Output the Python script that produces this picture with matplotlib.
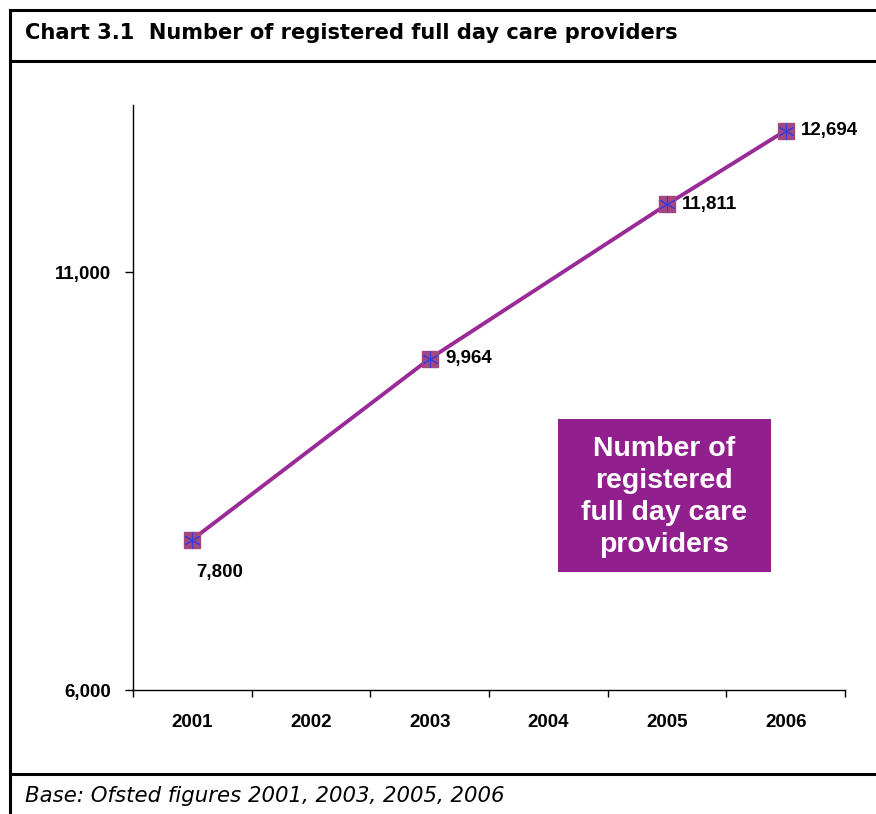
import matplotlib.pyplot as plt
from matplotlib.lines import Line2D
from matplotlib.patches import Rectangle
import numpy as np

# categories on the x axis and the years that have a figure
categories = ["2001", "2002", "2003", "2004", "2005", "2006"]
years = ["2001", "2003", "2005", "2006"]
providers = [7800, 9964, 11811, 12694]
labels = ["7,800", "9,964", "11,811", "12,694"]
yticks = [6000, 11000]
ytick_labels = ["6,000", "11,000"]

W, H = 876, 814
fig = plt.figure(figsize=(W / 100, H / 100), dpi=100)

line_col = "#9a2a98"
box_col = "#921f8e"
lab_size = 13.5

ax = fig.add_axes([133 / W, 1 - 690 / H, (845 - 133) / W, (690 - 105) / H])
x = [categories.index(y) for y in years]
ax.plot(x, providers, color=line_col, lw=2.8, zorder=2)
ax.plot(x, providers, ls="none", marker="s", ms=11.5, mfc="#a3487f", mec="#a3487f", zorder=3)
ax.plot(x, providers, ls="none", marker=(6, 2, 0), ms=12, mec="#3a3ad8", mew=0.8, zorder=4)

ax.set_xlim(-0.5, 5.5)
ax.set_ylim(6000, 13000)
ax.set_yticks(yticks)
ax.set_yticklabels(ytick_labels)
ax.set_xticks(range(len(categories)))
ax.set_xticklabels(categories)
ax.set_xticks(np.arange(-0.5, 6, 1), minor=True)
ax.tick_params(axis="x", which="major", length=0, pad=17)
ax.tick_params(axis="x", which="minor", length=5, direction="out", width=1)
ax.tick_params(axis="y", length=6, width=1, pad=10)
for lab in ax.get_xticklabels() + ax.get_yticklabels():
    lab.set_fontfamily("Liberation Sans")
    lab.set_fontweight("bold")
    lab.set_fontsize(lab_size)
for s in ["top", "right"]:
    ax.spines[s].set_visible(False)
for s in ["left", "bottom"]:
    ax.spines[s].set_linewidth(1)

# value labels
for i, (xi, v, t) in enumerate(zip(x, providers, labels)):
    if i == 0:
        off = (3, -24)
    else:
        off = (11, 0)
    ax.annotate(t, (xi, v), xytext=off, textcoords="offset points",
                ha="left", va="center", fontsize=lab_size, fontweight="bold",
                family="Liberation Sans")

# purple label box
fig.patches.append(Rectangle((558 / W, 1 - 572 / H), (771 - 558) / W, (572 - 419) / H,
                             transform=fig.transFigure, facecolor=box_col, edgecolor="none"))
fig.text(664 / W, 1 - 497 / H, "Number of\nregistered\nfull day care\nproviders",
         ha="center", va="center", color="white", fontsize=20.5, fontweight="bold",
         family="Liberation Sans", linespacing=1.3)

# frame lines
lw = 2.2
for yy in [10, 61, 774]:
    fig.add_artist(Line2D([10 / W, 1], [1 - yy / H, 1 - yy / H], color="black", lw=lw,
                          transform=fig.transFigure))
fig.add_artist(Line2D([10 / W, 10 / W], [1 - 10 / H, 0], color="black", lw=lw,
                      transform=fig.transFigure))

fig.text(25 / W, 1 - 33 / H, "Chart 3.1  Number of registered full day care providers",
         ha="left", va="center", fontsize=15.1, fontweight="bold", family="DejaVu Sans")
fig.text(25 / W, 1 - 796 / H, "Base: Ofsted figures 2001, 2003, 2005, 2006",
         ha="left", va="center", fontsize=15.3, style="italic", family="DejaVu Sans")

fig.savefig("out.png", dpi=100)
